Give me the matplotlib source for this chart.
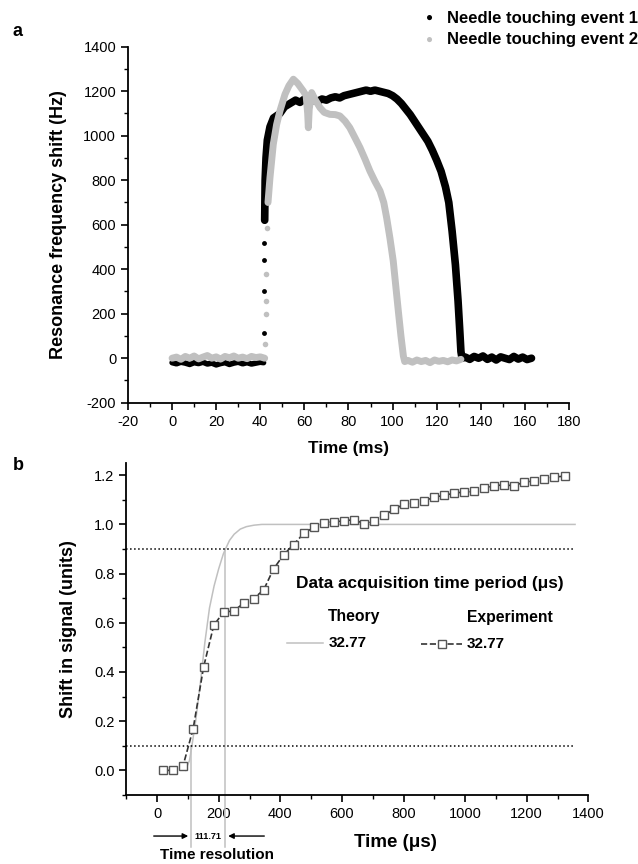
import matplotlib
matplotlib.use("Agg")
import matplotlib.pyplot as plt
from matplotlib.ticker import MultipleLocator

plt.rcParams['font.family'] = ['Liberation Sans', 'DejaVu Sans']
plt.rcParams['axes.unicode_minus'] = False

# panel a: event 1 (black)
ev1_base_t = [0, 2, 4, 6, 8, 10, 12, 14, 16, 18, 20, 22, 24, 26, 28, 30, 32, 34, 36, 38, 40, 41.5]
ev1_base_f = [-20, -25, -18, -22, -28, -20, -24, -18, -26, -22, -30, -24, -20, -28, -22, -18, -25, -20, -26, -22, -18, -20]
ev1_jump_t = [41.6, 41.7, 41.8, 41.9]
ev1_jump_f = [115, 300, 440, 520]
ev1_t = [42.0, 42.2, 42.6, 43.2, 44.4, 46, 48.9, 51, 53.5, 56, 58, 60, 62, 64, 66, 68, 70, 72, 74, 76, 78,
         80, 82, 84, 86, 88, 90, 92, 94, 96, 98, 100, 102, 104, 106, 108, 110, 112, 114, 116, 118,
         120, 122, 124, 125.5, 127, 128.5, 129.7, 130.5, 131, 131.5, 133, 135, 137, 139, 141, 143,
         145, 147, 149, 151, 153, 155, 157, 159, 161, 163]
ev1_f = [620, 800, 900, 980, 1040, 1080, 1100, 1130, 1145, 1160, 1150, 1165, 1150, 1160, 1155, 1165, 1160,
         1170, 1175, 1170, 1180, 1185, 1190, 1195, 1200, 1205, 1200, 1205, 1200, 1195, 1190, 1180,
         1165, 1145, 1120, 1095, 1065, 1035, 1005, 975, 935, 890, 840, 770, 700, 571, 420, 257, 120,
         30, 0, 5, -5, 8, 0, 10, -5, 5, -8, 6, 0, -6, 8, -4, 5, -6, 0]

# panel a: event 2 (grey)
ev2_base_t = [0, 2, 4, 6, 8, 10, 12, 14, 16, 18, 20, 22, 24, 26, 28, 30, 32, 34, 36, 38, 40, 42]
ev2_base_f = [0, 5, -5, 8, 0, 10, -3, 5, 12, 0, 6, -4, 8, 2, 10, 0, 5, -2, 8, 3, 6, 0]
ev2_jump_t = [42.3, 42.4, 42.5, 42.7, 43.0]
ev2_jump_f = [62, 200, 257, 378, 587]
ev2_t = [43.5, 44.4, 45.9, 47.4, 48.9, 51.2, 53, 55, 57, 59.5, 60.8, 61.5, 61.8, 62.2, 63.3, 65, 67.1,
         69, 71.6, 74, 76.1, 78.5, 80.6, 83, 85.2, 87.5, 89.7, 92, 94.3, 96, 97.3, 98.8, 100.3, 101.5,
         102.6, 103.8, 104.9, 105.5, 107, 109, 111, 113, 115, 117, 119, 121, 123, 125, 127, 129, 131]
ev2_f = [700, 812, 962, 1050, 1111, 1186, 1225, 1254, 1235, 1201, 1180, 1100, 1036, 1120, 1194, 1160,
         1126, 1105, 1096, 1095, 1089, 1065, 1036, 990, 947, 895, 842, 795, 752, 700, 632, 540, 437,
         320, 213, 100, 10, -15, -10, -18, -8, -15, -10, -20, -8, -14, -10, -16, -8, -12, -5]

# panel b: experiment (squares) and theory
exp_t = [19.5, 51.9, 84.3, 117, 151, 184, 216, 249, 281, 313, 346, 378, 411, 443, 478, 510, 543,
         575, 608, 640, 672, 705, 737, 770, 802, 835, 867, 900, 932, 964, 997, 1029, 1062, 1094,
         1126, 1159, 1191, 1224, 1256, 1289, 1324]
exp_s = [0.0, 0.0, 0.019, 0.169, 0.421, 0.590, 0.644, 0.648, 0.680, 0.698, 0.734, 0.819, 0.877,
         0.918, 0.966, 0.988, 1.007, 1.011, 1.014, 1.020, 1.002, 1.015, 1.038, 1.061, 1.083, 1.088,
         1.095, 1.111, 1.118, 1.127, 1.132, 1.134, 1.147, 1.157, 1.161, 1.157, 1.172, 1.177, 1.185,
         1.193, 1.196]
th_t = [92, 105, 113, 125, 140, 155, 170, 185, 200, 215, 222, 235, 250, 270, 290, 315, 340, 400, 600, 1000, 1357]
th_s = [0.0, 0.04, 0.1, 0.2, 0.35, 0.52, 0.66, 0.75, 0.82, 0.88, 0.9, 0.935, 0.96, 0.981, 0.991,
        0.997, 1.0, 1.0, 1.0, 1.0, 1.0]
t10, t90 = 110, 221.7
period = "32.77"
resolution = "111.71"

GREY = '#c0c0c0'
fig = plt.figure(figsize=(6.38, 8.64), dpi=100)

def style(ax):
    for s in ['top', 'right']:
        ax.spines[s].set_visible(False)
    for s in ['left', 'bottom']:
        ax.spines[s].set_linewidth(1.3)
    ax.tick_params(which='major', direction='out', length=5, width=1.2, labelsize=10.5)
    ax.tick_params(which='minor', direction='out', length=3, width=1.0)

# ---- panel a
ax1 = fig.add_axes([0.2006, 0.5339, 0.6912, 0.4120])
ax1.plot(ev1_base_t, ev1_base_f, '-', color='k', lw=4, solid_capstyle='round')
ax1.plot(ev1_jump_t, ev1_jump_f, 'o', color='k', ms=3.5, mew=0)
ax1.plot(ev1_t, ev1_f, '-', color='k', lw=5.5, solid_capstyle='round', solid_joinstyle='round')
ax1.plot(ev2_base_t, ev2_base_f, '-', color=GREY, lw=5, solid_capstyle='round')
ax1.plot(ev2_jump_t, ev2_jump_f, 'o', color=GREY, ms=4, mew=0)
ax1.plot(ev2_t, ev2_f, '-', color=GREY, lw=5, solid_capstyle='round', solid_joinstyle='round')
ax1.set_xlim(-20, 180)
ax1.set_ylim(-200, 1400)
ax1.xaxis.set_major_locator(MultipleLocator(20))
ax1.xaxis.set_minor_locator(MultipleLocator(10))
ax1.yaxis.set_major_locator(MultipleLocator(200))
ax1.yaxis.set_minor_locator(MultipleLocator(100))
style(ax1)
ax1.set_xlabel('Time (ms)', fontsize=12.3, fontweight='bold', labelpad=9)
ax1.set_ylabel('Resonance frequency shift (Hz)', fontsize=13, fontweight='bold', labelpad=12)

fig.text(0.02, 0.963, 'a', fontsize=13, fontweight='bold', va='center')
fig.text(0.674, 0.979, '\u25cf', color='k', fontsize=8.5, va='center', ha='center')
fig.text(0.674, 0.954, '\u25cf', color=GREY, fontsize=8.5, va='center', ha='center')
fig.text(0.700, 0.979, 'Needle touching event 1', fontsize=12, fontweight='bold', va='center')
fig.text(0.700, 0.954, 'Needle touching event 2', fontsize=12, fontweight='bold', va='center')

# ---- panel b
ax2 = fig.add_axes([0.198, 0.0799, 0.7241, 0.3843])
ax2.plot(th_t, th_s, '-', color=GREY, lw=1.1)
ax2.plot([t10, t10], [0.1, -0.31], '-', color=GREY, lw=1.1, clip_on=False)
ax2.plot([t90, t90], [0.9, -0.31], '-', color=GREY, lw=1.1, clip_on=False)
ax2.plot([-100, 1351], [0.9, 0.9], ':', color='k', lw=1.1)
ax2.plot([-100, 1351], [0.1, 0.1], ':', color='k', lw=1.1)
ax2.plot(exp_t, exp_s, '--', color='#333333', lw=1.2, marker='s', ms=6, mfc='white',
         mec='#555555', mew=1.0)
ax2.set_xlim(-100, 1400)
ax2.set_ylim(-0.1, 1.25)
ax2.xaxis.set_minor_locator(MultipleLocator(100))
ax2.yaxis.set_minor_locator(MultipleLocator(0.1))
ax2.set_yticks([0, 0.2, 0.4, 0.6, 0.8, 1.0, 1.2])
ax2.set_yticklabels(['0.0', '0.2', '0.4', '0.6', '0.8', '1.0', '1.2'])
ax2.set_xticks(range(0, 1401, 200))
style(ax2)
ax2.set_xlabel('Time (\u03bcs)', fontsize=13.5, fontweight='bold')
ax2.xaxis.set_label_coords(0.582, -0.118)
ax2.set_ylabel('Shift in signal (units)', fontsize=13, fontweight='bold', labelpad=12)
fig.text(0.02, 0.461, 'b', fontsize=13, fontweight='bold', va='center')

ax2.text(886, 0.761, 'Data acquisition time period (\u03bcs)', fontsize=12.4, fontweight='bold',
         ha='center', va='center')
ax2.text(638, 0.624, 'Theory', fontsize=11.3, fontweight='bold', ha='center', va='center')
ax2.text(1144, 0.62, 'Experiment', fontsize=11.3, fontweight='bold', ha='center', va='center')
ax2.plot([422, 540], [0.516, 0.516], '-', color=GREY, lw=1.1)
ax2.text(556, 0.516, period, fontsize=11, fontweight='bold', ha='left', va='center')
ax2.plot([856, 989], [0.512, 0.512], '--', color='#333333', lw=1.2)
ax2.plot([924], [0.512], 's', ms=6, mfc='white', mec='#555555', mew=1.0)
ax2.text(1006, 0.512, period, fontsize=11, fontweight='bold', ha='left', va='center')

ax2.annotate('', xy=(t10, -0.267), xytext=(-20, -0.267), annotation_clip=False,
             arrowprops=dict(arrowstyle='-|>', color='k', lw=1.0, mutation_scale=8))
ax2.annotate('', xy=(t90, -0.267), xytext=(357, -0.267), annotation_clip=False,
             arrowprops=dict(arrowstyle='-|>', color='k', lw=1.0, mutation_scale=8))
ax2.text((t10 + t90) / 2, -0.267, resolution, fontsize=6.5, fontweight='bold', ha='center', va='center')
ax2.text(195, -0.344, 'Time resolution', fontsize=11, fontweight='bold', ha='center', va='center')

fig.savefig('out.png', dpi=100)
